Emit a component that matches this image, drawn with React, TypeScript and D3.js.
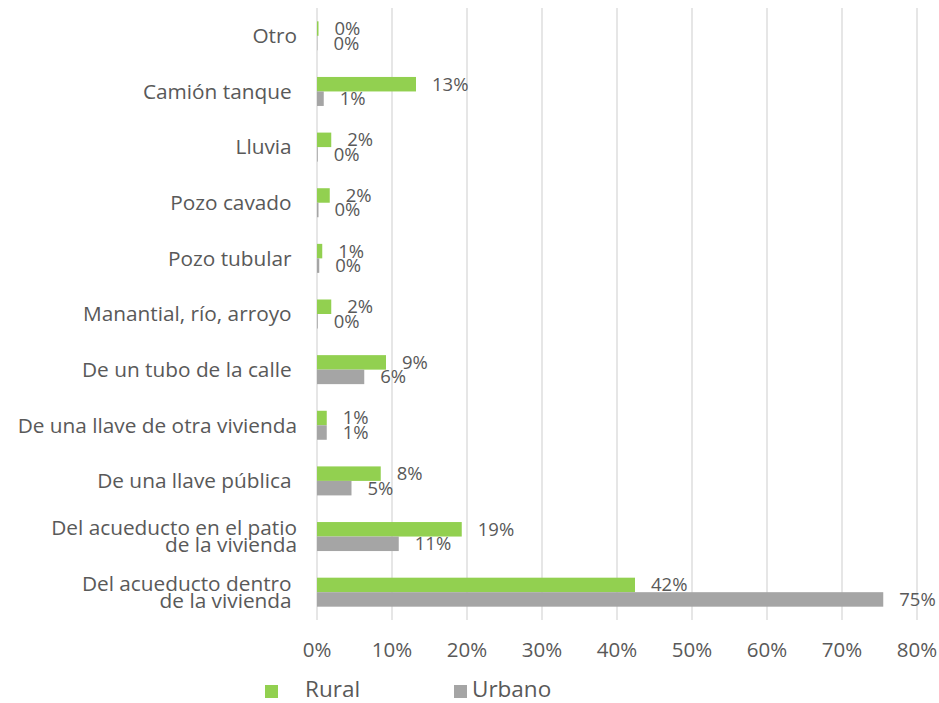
import React from "react";
import * as d3 from "d3";

const categories = [
  "Otro",
  "Camión tanque ",
  "Lluvia ",
  "Pozo cavado ",
  "Pozo tubular ",
  "Manantial, río, arroyo ",
  "De un tubo de la calle ",
  "De una llave de otra vivienda",
  "De una llave pública ",
  "Del acueducto en el patio|de la vivienda",
  "Del acueducto dentro |de la vivienda ",
];
const rural = [0.2, 13.2, 1.9, 1.7, 0.7, 1.9, 9.2, 1.3, 8.5, 19.3, 42.4];
const urbano = [0.05, 0.9, 0.1, 0.2, 0.3, 0.1, 6.3, 1.3, 4.6, 10.9, 75.5];
const ruralLabels = ["0%", "13%", "2%", "2%", "1%", "2%", "9%", "1%", "8%", "19%", "42%"];
const urbanoLabels = ["0%", "1%", "0%", "0%", "0%", "0%", "6%", "1%", "5%", "11%", "75%"];
const ticks = [0, 10, 20, 30, 40, 50, 60, 70, 80];
const seriesNames = ["Rural", "Urbano"];

const GREEN = "#92D050";
const GRAY = "#A5A5A5";
const TEXT = "#595959";
const FONT = "'Open Sans', 'Noto Sans', sans-serif";

export default function App() {
  const W = 939, H = 703;
  const x = d3.scaleLinear().domain([0, 80]).range([317, 917]);
  const y = d3.scaleBand<string>().domain(categories).range([8, 620]).padding(0);
  const barH = 14.5;

  return (
    <svg width={W} height={H} style={{ position: "absolute", left: 0, top: 0, background: "#fff" }} fontFamily={FONT}>
      {ticks.map((t) => (
        <line key={t} x1={x(t)} x2={x(t)} y1={8} y2={620} stroke="#D9D9D9" strokeWidth={1.3} />
      ))}
      {categories.map((c, i) => {
        const cy = (y(c) as number) + y.bandwidth() / 2;
        const lines = c.split("|");
        return (
          <g key={c}>
            <rect x={x(0)} y={cy - barH} width={x(rural[i]) - x(0)} height={barH} fill={GREEN} />
            <rect x={x(0)} y={cy} width={x(urbano[i]) - x(0)} height={barH} fill={GRAY} />
            <text x={x(rural[i]) + 16} y={cy - barH / 2} dy="0.35em" fontSize={18.5} fill={TEXT}>{ruralLabels[i]}</text>
            <text x={x(urbano[i]) + 16} y={cy + barH / 2} dy="0.35em" fontSize={18.5} fill={TEXT}>{urbanoLabels[i]}</text>
            {lines.length === 1 ? (
              <text x={297} y={cy} dy="0.35em" textAnchor="end" fontSize={20.8} fill={TEXT} style={{ whiteSpace: "pre" }}>{lines[0]}</text>
            ) : (
              lines.map((l, k) => (
                <text key={k} x={297} y={cy - 8.5 + k * 17} dy="0.35em" textAnchor="end" fontSize={20.8} fill={TEXT} style={{ whiteSpace: "pre" }}>{l}</text>
              ))
            )}
          </g>
        );
      })}
      {ticks.map((t) => (
        <text key={"t" + t} x={x(t)} y={650} dy="0.35em" textAnchor="middle" fontSize={20.5} fill={TEXT}>{t + "%"}</text>
      ))}
      <rect x={265} y={685} width={13} height={13} fill={GREEN} />
      <text x={305} y={689} dy="0.35em" fontSize={22.5} fill={TEXT}>{seriesNames[0]}</text>
      <rect x={454} y={685} width={13} height={13} fill={GRAY} />
      <text x={472} y={689} dy="0.35em" fontSize={22.5} fill={TEXT}>{seriesNames[1]}</text>
    </svg>
  );
}
